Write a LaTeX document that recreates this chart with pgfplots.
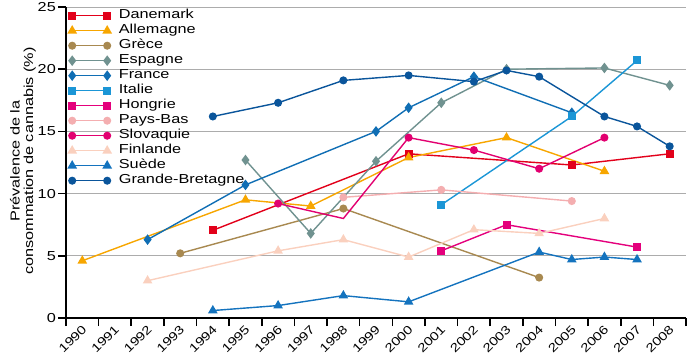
\documentclass[border=0pt]{standalone}
\usepackage{fontspec}
\setmainfont{Liberation Sans}[FakeStretch=1.25]
\usepackage{pgfplots}
\pgfplotsset{compat=1.18}
\definecolor{cDK}{RGB}{226,0,26}
\definecolor{cDE}{RGB}{247,166,0}
\definecolor{cGR}{RGB}{168,137,80}
\definecolor{cES}{RGB}{112,146,144}
\definecolor{cFR}{RGB}{16,110,180}
\definecolor{cIT}{RGB}{27,150,214}
\definecolor{cHU}{RGB}{228,0,124}
\definecolor{cNL}{RGB}{244,174,176}
\definecolor{cSK}{RGB}{226,0,112}
\definecolor{cFI}{RGB}{250,208,190}
\definecolor{cSE}{RGB}{20,115,190}
\definecolor{cGB}{RGB}{10,85,155}
\newcommand{\chartfont}{\fontsize{13bp}{15bp}\selectfont}
\begin{document}
\begin{tikzpicture}[font=\chartfont]
\begin{axis}[
  scale only axis, width=620bp, height=311bp,
  xmin=1989.5, xmax=2008.5, ymin=0, ymax=25,
  /pgf/number format/assume math mode=true,
  /pgf/number format/1000 sep={},
  axis lines=left,
  axis line style={-, line width=1.6bp, black},
  tick align=outside,
  xtick={1990,...,2008},
  major x tick style={draw=none},
  minor xtick={1989.5,1990.5,...,2008.5},
  minor tick length=8bp,
  major tick length=8bp,
  minor x tick style={line width=1.6bp, black},
  major y tick style={line width=1.6bp, black},
  xticklabel style={xshift=-1bp, yshift=2bp, rotate=45, anchor=north east, inner sep=0pt, font=\fontsize{12bp}{15bp}\selectfont},
  ytick={0,5,...,25},
  yticklabel style={inner sep=2bp, font=\chartfont},
  ymajorgrids,
  grid style={line width=0.9bp, gray!65},
  every axis plot/.append style={line width=1.4bp},
  legend image code/.code={\draw[#1] plot coordinates {(0bp,0bp) (35bp,0bp)}; \path (42bp,0bp);},
  legend cell align=left,
  legend style={draw=none, fill=none, at={(0,1)}, anchor=north west, xshift=2bp, yshift=-1bp,
    inner sep=0pt, row sep=0pt, font=\chartfont,
    nodes={inner ysep=1bp, inner xsep=4bp, text height=9.5bp, text depth=3.5bp}},
  clip=false,
]
\addplot[cDK, mark=square*, mark size=3.3bp] coordinates {(1994,7.05) (2000,13.2) (2005,12.3) (2008,13.2)};
\addlegendentry{Danemark}
\addplot[cDE, mark=triangle*, mark size=4.2bp] coordinates {(1990,4.6) (1995,9.5) (1997,9.0) (2000,12.9) (2003,14.5) (2006,11.8)};
\addlegendentry{Allemagne}
\addplot[cGR, mark=*, mark size=3.3bp] coordinates {(1993,5.2) (1998,8.8) (2004,3.25)};
\addlegendentry{Grèce}
\addplot[cES, mark=diamond*, mark size=4.2bp] coordinates {(1995,12.7) (1997,6.8) (1999,12.6) (2001,17.3) (2003,20.0) (2006,20.1) (2008,18.7)};
\addlegendentry{Espagne}
\addplot[cFR, mark=diamond*, mark size=4.2bp] coordinates {(1992,6.3) (1995,10.7) (1999,15.0) (2000,16.9) (2002,19.4) (2005,16.5)};
\addlegendentry{France}
\addplot[cIT, mark=square*, mark size=3.3bp] coordinates {(2001,9.1) (2005,16.2) (2007,20.7)};
\addlegendentry{Italie}
\addplot[cHU, mark=square*, mark size=3.3bp] coordinates {(2001,5.4) (2003,7.5) (2007,5.7)};
\addlegendentry{Hongrie}
\addplot[cNL, mark=*, mark size=3.3bp] coordinates {(1998,9.7) (2001,10.3) (2005,9.4)};
\addlegendentry{Pays-Bas}
\addplot[cSK, mark=*, mark size=3.3bp, mark indices={1,3,4,5,6},
  legend image code/.code={\draw[cSK, line width=1.4bp] (0bp,0bp) -- (35bp,0bp); \fill[cSK] (0bp,0bp) circle[radius=3.3bp] (35bp,0bp) circle[radius=3.3bp]; \path (42bp,0bp);}]
  coordinates {(1996,9.2) (1998,8.0) (2000,14.5) (2002,13.5) (2004,12.0) (2006,14.5)};
\addlegendentry{Slovaquie}
\addplot[cFI, mark=triangle*, mark size=4.2bp] coordinates {(1992,3.0) (1996,5.4) (1998,6.3) (2000,4.9) (2002,7.1) (2004,6.8) (2006,8.0)};
\addlegendentry{Finlande}
\addplot[cSE, mark=triangle*, mark size=4.2bp] coordinates {(1994,0.6) (1996,1.0) (1998,1.8) (2000,1.3) (2004,5.3) (2005,4.7) (2006,4.9) (2007,4.7)};
\addlegendentry{Suède}
\addplot[cGB, mark=*, mark size=3.3bp] coordinates {(1994,16.2) (1996,17.3) (1998,19.1) (2000,19.5) (2002,19.0) (2003,19.9) (2004,19.4) (2006,16.2) (2007,15.4) (2008,13.8)};
\addlegendentry{Grande-Bretagne}
\end{axis}
\node[rotate=90, align=center, font=\fontsize{13bp}{13.5bp}\selectfont, inner sep=0pt] at (-43bp,157bp) {Prévalence de la\\consommation de cannabis (\%)};
\pgfresetboundingbox
\path (-66bp,-41bp) rectangle (621bp,318bp);
\end{tikzpicture}
\end{document}
